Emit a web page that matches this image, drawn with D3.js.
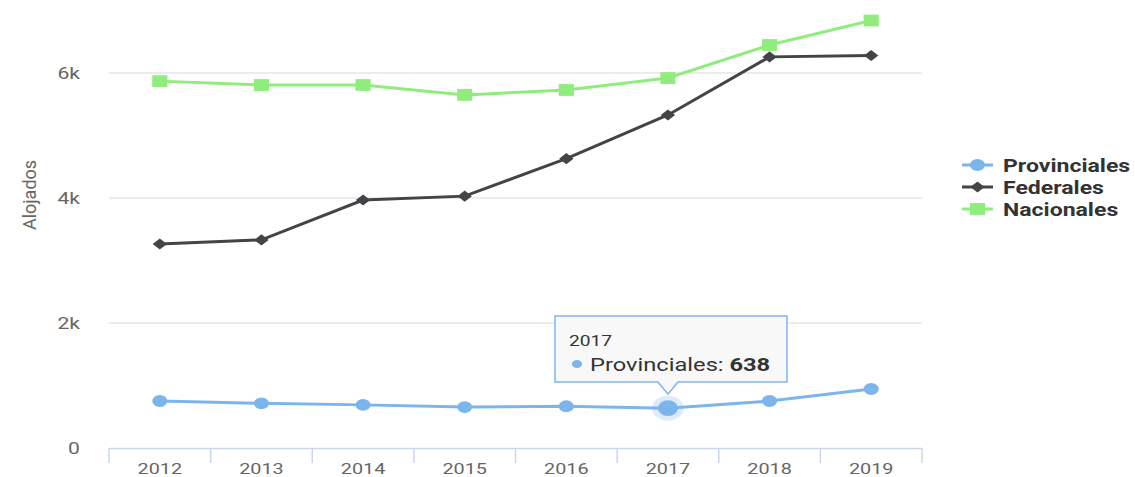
<!DOCTYPE html>
<html>
<head>
<meta charset="utf-8">
<script src="https://cdn.jsdelivr.net/npm/d3@7"></script>
<style>
  body { margin: 0; background: #fff; }
  svg { display: block; font-family: Roboto, "Liberation Sans", sans-serif; }
</style>
</head>
<body>
<div id="chart"></div>
<script>
// data
var years = ["2012", "2013", "2014", "2015", "2016", "2017", "2018", "2019"];
var provinciales = [752, 715, 690, 655, 668, 638, 752, 944];
var federales = [3264, 3330, 3968, 4030, 4630, 5328, 6258, 6280];
var nacionales = [5870, 5808, 5808, 5650, 5728, 5920, 6448, 6840];
var yTicks = [0, 2000, 4000, 6000];

var svgWidth = 1135;
var svgHeight = 477;
// the original picture is stretched sideways, so text and markers get this too
var sx = 1.28;

var svg = d3.select("#chart")
  .append("svg")
  .attr("width", svgWidth)
  .attr("height", svgHeight);

// put a text at (x, y) and widen it
function wideText(g, x, y) {
  return g.append("text")
    .attr("transform", `translate(${x},${y}) scale(${sx},1)`);
}

// scales
var x = d3.scaleBand()
  .domain(years)
  .range([109, 922]);

var y = d3.scaleLinear()
  .domain([0, 6000])
  .range([448, 73]);

// grid lines
svg.append("g")
  .selectAll("line")
  .data(yTicks.filter(d => d > 0))
  .enter()
  .append("line")
  .attr("x1", 109)
  .attr("x2", 922)
  .attr("y1", d => y(d))
  .attr("y2", d => y(d))
  .attr("stroke", "#e6e6e6")
  .attr("stroke-width", 1.5);

// y axis labels
var leftAxis = d3.axisLeft(y)
  .tickValues(yTicks)
  .tickSize(0)
  .tickPadding(0)
  .tickFormat(d => d === 0 ? "0" : (d / 1000) + "k");

var yAxisG = svg.append("g")
  .attr("transform", "translate(80,0)")
  .call(leftAxis);
yAxisG.select(".domain").remove();
yAxisG.selectAll("text")
  .attr("fill", "#666")
  .attr("font-size", "16.5px")
  .attr("font-family", "Roboto, sans-serif")
  .attr("transform", `scale(${sx},1)`);

// x axis
var bottomAxis = d3.axisBottom(x).tickSize(0).tickPadding(15);
var xAxisG = svg.append("g")
  .attr("transform", "translate(0,448)")
  .call(bottomAxis);
xAxisG.select(".domain").attr("stroke", "#ccd6eb").attr("stroke-width", 1.5);
xAxisG.selectAll("text")
  .attr("fill", "#666")
  .attr("font-size", "15.5px")
  .attr("font-family", "Roboto, sans-serif")
  .attr("transform", `scale(${sx},1)`);

// band boundary ticks
var edges = years.map(d => x(d)).concat([x.range()[1]]);
xAxisG.append("g")
  .selectAll("line")
  .data(edges)
  .enter()
  .append("line")
  .attr("x1", d => d)
  .attr("x2", d => d)
  .attr("y1", 0)
  .attr("y2", 15)
  .attr("stroke", "#ccd6eb")
  .attr("stroke-width", 1.5);

// y axis title
svg.append("text")
  .attr("transform", "translate(36,195) rotate(-90)")
  .attr("text-anchor", "middle")
  .attr("fill", "#666")
  .attr("font-size", "18px")
  .text("Alojados");

var cx = d => x(d) + x.bandwidth() / 2;

var series = [
  { name: "Provinciales", values: provinciales, color: "#7cb5ec", symbol: d3.symbolCircle, size: 110 },
  { name: "Federales", values: federales, color: "#434348", symbol: d3.symbolDiamond2, size: 80 },
  { name: "Nacionales", values: nacionales, color: "#90ed7d", symbol: d3.symbolSquare, size: 140 }
];

var line = d3.line()
  .x(d => cx(d.year))
  .y(d => y(d.value));

series.forEach(function (s) {
  var pts = years.map((yr, i) => ({ year: yr, value: s.values[i] }));
  var g = svg.append("g");
  g.append("path")
    .datum(pts)
    .attr("d", line)
    .attr("fill", "none")
    .attr("stroke", s.color)
    .attr("stroke-width", 3);
  g.selectAll("path.marker")
    .data(pts)
    .enter()
    .append("path")
    .attr("class", "marker")
    .attr("transform", d => `translate(${cx(d.year)},${y(d.value)}) scale(${sx},1)`)
    .attr("d", d3.symbol().type(s.symbol).size(s.size))
    .attr("fill", s.color);
});

// hovered point 2017 Provinciales
var hi = years.indexOf("2017");
var hx = cx("2017");
var hy = y(provinciales[hi]);
svg.append("ellipse")
  .attr("cx", hx).attr("cy", hy).attr("rx", 12.5 * sx).attr("ry", 12.5)
  .attr("fill", "#7cb5ec").attr("opacity", 0.25);
svg.append("ellipse")
  .attr("cx", hx).attr("cy", hy).attr("rx", 7.8 * sx).attr("ry", 7.8)
  .attr("fill", "#7cb5ec");

// tooltip
var tip = svg.append("g");
var tw = 232, th = 66, tx = 555, ty = 316;
tip.append("path")
  .attr("d", `M${tx},${ty} h${tw} v${th} H${hx + 10} L${hx},${hy - 14} L${hx - 10},${ty + th} H${tx} Z`)
  .attr("fill", "#f7f7f7")
  .attr("fill-opacity", 0.92)
  .attr("stroke", "#7cb5ec")
  .attr("stroke-width", 1.5);
wideText(tip, tx + 14, ty + 30)
  .attr("fill", "#333").attr("font-size", "15px")
  .text("2017");
tip.append("ellipse")
  .attr("cx", tx + 22).attr("cy", ty + 48).attr("rx", 4 * sx).attr("ry", 4)
  .attr("fill", "#7cb5ec");
var tt = wideText(tip, tx + 35, ty + 55)
  .attr("fill", "#333").attr("font-size", "18.5px");
tt.append("tspan").text("Provinciales: ");
tt.append("tspan").attr("font-weight", "bold").text(provinciales[hi]);

// legend
var legend = svg.append("g").attr("transform", "translate(962,165)");
series.forEach(function (s, i) {
  var lg = legend.append("g").attr("transform", `translate(0,${i * 22})`);
  lg.append("line")
    .attr("x1", 0).attr("x2", 31)
    .attr("stroke", s.color).attr("stroke-width", 3);
  lg.append("path")
    .attr("transform", `translate(15.5,0) scale(${sx},1)`)
    .attr("d", d3.symbol().type(s.symbol).size(s.size))
    .attr("fill", s.color);
  wideText(lg, 41, 7)
    .attr("fill", "#333")
    .attr("font-size", "18px")
    .attr("font-weight", "bold")
    .text(s.name);
});
</script>
</body>
</html>
